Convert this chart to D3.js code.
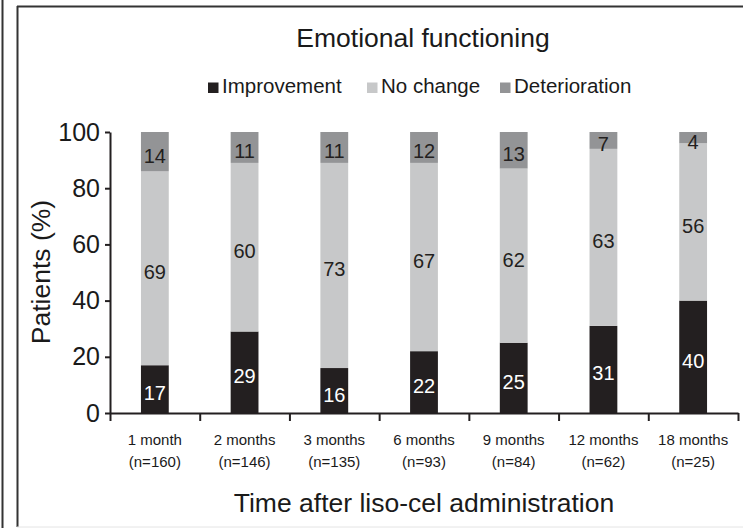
<!DOCTYPE html>
<html>
<head>
<meta charset="utf-8">
<script src="https://cdn.jsdelivr.net/npm/d3@7"></script>
<style>
  body { margin: 0; background: #fff; }
  text { font-family: "Liberation Sans", Arial, sans-serif; fill: #1a1a1a; }
</style>
</head>
<body>
<svg id="chart"></svg>
<script>
// values
let months = ["1 month", "2 months", "3 months", "6 months", "9 months", "12 months", "18 months"];
let counts = ["(n=160)", "(n=146)", "(n=135)", "(n=93)", "(n=84)", "(n=62)", "(n=25)"];
let improvement = [17, 29, 16, 22, 25, 31, 40];
let noChange = [69, 60, 73, 67, 62, 63, 56];
let deterioration = [14, 11, 11, 12, 13, 7, 4];
let seriesNames = ["Improvement", "No change", "Deterioration"];
let yTicks = [0, 20, 40, 60, 80, 100];

var W = 743, H = 528;
var margin = { top: 132, right: 5, bottom: 115, left: 110 },
	width = 738 - margin.left,
	height = H - margin.top - margin.bottom;

var colors = { "Improvement": "#231f20", "No change": "#c7c8c9", "Deterioration": "#939496" };
var labelColors = { "Improvement": "#ffffff", "No change": "#231f20", "Deterioration": "#231f20" };

const root = d3.select("#chart")
	.attr("width", W)
	.attr("height", H);

// frame (panel border, plus the edge of the neighbouring panel)
root.append("line").attr("x1", 2.5).attr("x2", 2.5).attr("y1", 0).attr("y2", H)
	.attr("stroke", "#333").attr("stroke-width", 2);
root.append("line").attr("x1", 17.5).attr("x2", 17.5).attr("y1", 6).attr("y2", 527)
	.attr("stroke", "#333").attr("stroke-width", 2);
root.append("line").attr("x1", 17).attr("x2", W).attr("y1", 6.5).attr("y2", 6.5)
	.attr("stroke", "#333").attr("stroke-width", 2);
root.append("line").attr("x1", 17).attr("x2", W).attr("y1", 527).attr("y2", 527)
	.attr("stroke", "#e4e4e4").attr("stroke-width", 1);

// title
root.append("text")
	.attr("x", 423).attr("y", 47)
	.attr("text-anchor", "middle")
	.style("font-size", "26.5px")
	.text("Emotional functioning");

// legend
var legendX = [208, 367, 500];
var legend = root.append("g");
seriesNames.forEach((name, i) => {
	legend.append("rect")
		.attr("x", legendX[i]).attr("y", 82.5)
		.attr("width", 10.5).attr("height", 10.5)
		.attr("fill", colors[name]);
	legend.append("text")
		.attr("x", legendX[i] + 14).attr("y", 93)
		.style("font-size", "20.5px")
		.text(name);
});

const svg = root.append("g")
	.attr("transform", `translate(${margin.left}, ${margin.top})`);

var table = months.map((m, i) => ({
	month: m,
	"Improvement": improvement[i],
	"No change": noChange[i],
	"Deterioration": deterioration[i]
}));

var stacked = d3.stack().keys(seriesNames)(table);

var x = d3.scaleBand()
	.domain(months)
	.range([0, width])
	.paddingInner(0.69)
	.paddingOuter(0.345);

var y = d3.scaleLinear()
	.domain([0, 100])
	.range([height, 0])
	.clamp(true);

// bars
stacked.forEach(layer => {
	svg.append("g")
		.selectAll("rect")
		.data(layer)
		.join("rect")
		.attr("x", d => x(d.data.month))
		.attr("y", d => y(d[1]))
		.attr("width", x.bandwidth())
		.attr("height", d => y(d[0]) - y(d[1]))
		.attr("fill", colors[layer.key]);

	svg.append("g")
		.selectAll("text")
		.data(layer)
		.join("text")
		.attr("x", d => x(d.data.month) + x.bandwidth() / 2)
		.attr("y", d => (y(d[0]) + y(d[1])) / 2 + 4)
		.attr("text-anchor", "middle")
		.attr("dominant-baseline", "central")
		.style("font-size", "20px")
		.style("fill", labelColors[layer.key])
		.text(d => d.data[layer.key]);
});

// Y axis
var yAxis = svg.append("g")
	.call(d3.axisLeft(y).tickValues(yTicks).tickSize(5).tickSizeOuter(0).tickPadding(5));
yAxis.select(".domain").attr("stroke", "#231f20").attr("stroke-width", 2);
yAxis.selectAll(".tick line").attr("stroke", "#231f20").attr("stroke-width", 2);
yAxis.selectAll("text")
	.style("font-size", "25px")
	.attr("fill", "#1a1a1a")
	.style("font-family", "'Liberation Sans', Arial, sans-serif");

// X axis: boundary ticks
var xb = d3.scaleLinear().domain([0, months.length]).range([0, width]);
var xAxis = svg.append("g")
	.attr("transform", "translate(0," + height + ")")
	.call(d3.axisBottom(xb).tickValues(d3.range(months.length + 1)).tickFormat("").tickSize(8).tickSizeOuter(0));
xAxis.select(".domain").attr("stroke", "#231f20").attr("stroke-width", 2);
xAxis.selectAll(".tick line").attr("stroke", "#231f20").attr("stroke-width", 2);

// X category labels, two lines
var catLabels = svg.append("g")
	.attr("transform", "translate(0," + height + ")")
	.selectAll("text")
	.data(months)
	.join("text")
	.attr("text-anchor", "middle")
	.style("font-size", "15px")
	.attr("x", d => x(d) + x.bandwidth() / 2);
catLabels.append("tspan")
	.attr("x", d => x(d) + x.bandwidth() / 2)
	.attr("y", 32)
	.text(d => d);
catLabels.append("tspan")
	.attr("x", d => x(d) + x.bandwidth() / 2)
	.attr("y", 54)
	.text((d, i) => counts[i]);

// axis titles
root.append("text")
	.attr("x", 424).attr("y", 512)
	.attr("text-anchor", "middle")
	.style("font-size", "26.5px")
	.text("Time after liso-cel administration");

root.append("text")
	.attr("transform", "translate(50,272) rotate(-90)")
	.attr("text-anchor", "middle")
	.style("font-size", "26.5px")
	.text("Patients (%)");
</script>
</body>
</html>
